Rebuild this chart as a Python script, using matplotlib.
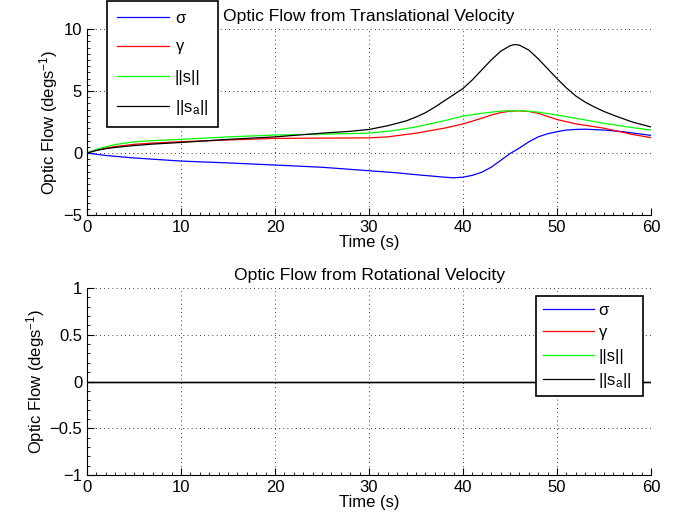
import matplotlib
matplotlib.use('Agg')
import matplotlib.pyplot as plt
from matplotlib.ticker import MultipleLocator

plt.rcParams['font.family'] = ['Liberation Sans', 'DejaVu Sans']
plt.rcParams['mathtext.fontset'] = 'custom'
plt.rcParams['mathtext.rm'] = 'Liberation Sans'
plt.rcParams['mathtext.it'] = 'Liberation Sans'

# values
t_sigma = [0, 2, 5, 10, 15, 20, 25, 30, 33, 35, 37, 38, 39, 40, 41, 42, 43, 44, 45, 46, 47, 48, 49, 50, 51, 52, 53, 55, 57, 60]
sigma = [0, -0.2, -0.4, -0.65, -0.8, -0.97, -1.15, -1.43, -1.6, -1.75, -1.88, -1.95, -2.0, -1.95, -1.8, -1.55, -1.15, -0.6, -0.05, 0.4, 0.9, 1.3, 1.55, 1.72, 1.85, 1.9, 1.92, 1.85, 1.72, 1.42]

t_gamma = [0, 1, 2, 3, 5, 7, 10, 15, 20, 25, 30, 32, 33, 35, 38, 40, 42, 43, 44, 45, 46, 47, 48, 49, 50, 52, 55, 58, 60]
gamma = [0, 0.25, 0.4, 0.52, 0.7, 0.8, 0.91, 1.05, 1.18, 1.2, 1.22, 1.3, 1.4, 1.6, 2.0, 2.34, 2.8, 3.06, 3.25, 3.38, 3.4, 3.35, 3.2, 2.95, 2.7, 2.35, 2.0, 1.5, 1.24]

t_s = [0, 1, 2, 3, 5, 7, 10, 15, 20, 25, 30, 32, 33, 35, 38, 40, 42, 44, 45, 46, 48, 50, 52, 55, 58, 60]
s_norm = [0, 0.3, 0.5, 0.68, 0.9, 1.0, 1.1, 1.3, 1.45, 1.52, 1.6, 1.75, 1.85, 2.1, 2.6, 2.98, 3.2, 3.38, 3.4, 3.42, 3.3, 3.06, 2.8, 2.4, 2.05, 1.85]

t_sa = [0, 1, 2, 3, 5, 7, 10, 15, 20, 25, 28, 30, 32, 34, 35, 36, 37, 38, 39, 40, 41, 42, 43, 44, 45, 45.5, 46, 47, 48, 49, 50, 51, 52, 53, 54, 55, 56, 58, 60]
sa_norm = [0, 0.2, 0.35, 0.45, 0.6, 0.72, 0.85, 1.1, 1.3, 1.6, 1.75, 1.9, 2.2, 2.6, 2.9, 3.25, 3.7, 4.2, 4.7, 5.2, 5.9, 6.7, 7.5, 8.2, 8.65, 8.75, 8.7, 8.3, 7.6, 6.8, 6.0, 5.25, 4.6, 4.1, 3.7, 3.35, 3.05, 2.5, 2.1]

t_rot = [0, 60]
rot = [0, 0]

colors = ['#0000ff', '#ff0000', '#00ff00', '#000000']
labels = [r'$\sigma$', r'$\gamma$', '||s||', r'||s$_\mathregular{a}$||']


def style_axes(ax, ylim, yticks, ytlabels, yminor):
    ax.set_xlim(0, 60)
    ax.set_ylim(*ylim)
    ax.set_xticks([0, 10, 20, 30, 40, 50, 60])
    ax.set_yticks(yticks)
    ax.set_yticklabels(ytlabels)
    ax.xaxis.set_minor_locator(MultipleLocator(1))
    ax.yaxis.set_minor_locator(MultipleLocator(yminor))
    ax.tick_params(direction='in', labelsize=12, length=5, width=0.8)
    ax.tick_params(which='minor', direction='in', length=2.5, width=0.6)
    ax.spines['top'].set_visible(False)
    ax.spines['right'].set_visible(False)
    ax.grid(True, which='major', linestyle=(0, (1, 4)), color='black', linewidth=0.6)
    ax.set_xlabel('Time (s)', fontsize=12, labelpad=0)
    ax.set_ylabel(r'Optic Flow (degs$^{-1}$)', fontsize=12, labelpad=2)


fig = plt.figure(figsize=(6.84, 5.27), dpi=100)
ax1 = fig.add_axes([87 / 684, 1 - 215 / 527, 564 / 684, 186 / 527])
ax2 = fig.add_axes([87 / 684, 1 - 475 / 527, 564 / 684, 187 / 527])

ax1.plot(t_sigma, sigma, color=colors[0], lw=0.9, label=labels[0])
ax1.plot(t_gamma, gamma, color=colors[1], lw=0.9, label=labels[1])
ax1.plot(t_s, s_norm, color=colors[2], lw=0.9, label=labels[2])
ax1.plot(t_sa, sa_norm, color=colors[3], lw=0.9, label=labels[3])
style_axes(ax1, (-5, 10), [-5, 0, 5, 10], ['\u22125', '0', '5', '10'], 0.5)
ax1.set_title('Optic Flow from Translational Velocity', fontsize=12.6, pad=6)

for c, lab in zip(colors, labels):
    ax2.plot(t_rot, rot, color=c, lw=0.9, label=lab)
style_axes(ax2, (-1, 1), [-1, -0.5, 0, 0.5, 1], ['\u22121', '\u22120.5', '0', '0.5', '1'], 0.1)
ax2.set_title('Optic Flow from Rotational Velocity', fontsize=12.6, pad=6)

leg1 = ax1.legend(loc='upper left', bbox_to_anchor=(107 / 684, 1 - 129 / 527, 111 / 684, 128 / 527),
                  bbox_transform=fig.transFigure, mode='expand', fontsize=12, fancybox=False,
                  framealpha=1, edgecolor='black', handlelength=3.1, handletextpad=0.36,
                  labelspacing=0.8, borderpad=0.6, borderaxespad=0)
leg1.get_frame().set_linewidth(1.2)

leg2 = ax2.legend(loc='upper left', bbox_to_anchor=(536 / 684, 1 - 400 / 527, 107 / 684, 104 / 527),
                  bbox_transform=fig.transFigure, mode='expand', fontsize=12, fancybox=False,
                  framealpha=1, edgecolor='black', handlelength=3.1, handletextpad=0.25,
                  labelspacing=0.42, borderpad=0.4, borderaxespad=0)
leg2.get_frame().set_linewidth(1.2)

fig.savefig('out.png', dpi=100)
